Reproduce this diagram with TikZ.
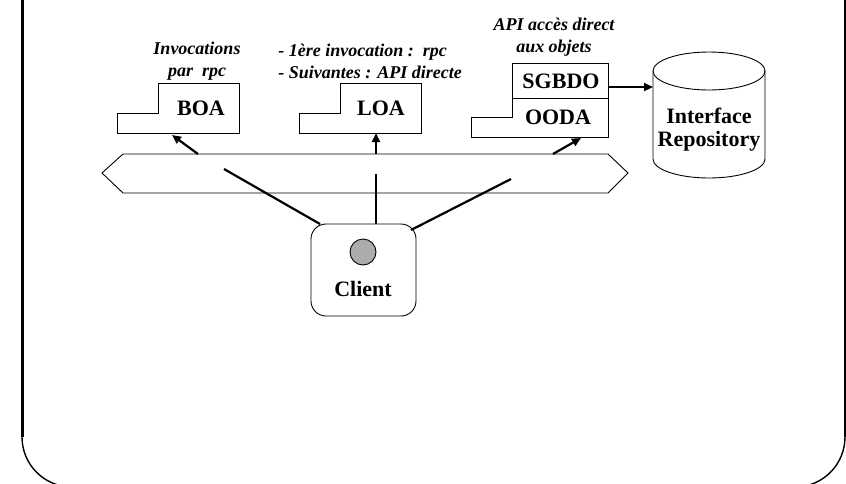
\documentclass[tikz,border=0pt]{standalone}
\usepackage{fontspec}
\setmainfont{Liberation Serif}
\usetikzlibrary{arrows.meta,positioning}

\begin{document}
\begin{tikzpicture}[x=1pt,y=-1pt,line width=0.9pt,
  lbl/.style={font=\fontsize{18}{22}\selectfont\bfseries\itshape,align=center,inner sep=0pt},
  boxname/.style={font=\fontsize{22}{23}\selectfont\bfseries,align=center,inner sep=0pt},
  link/.style={line width=2.2pt},
  arr/.style={line width=2.2pt,-{Triangle[length=9pt,width=8pt]}}]
 \useasboundingbox (0,0) rectangle (846,483);
 %FRAME
 \draw[line width=3pt] (22,0) -- (22,437);
 \draw[line width=1.4pt] (22,437) arc (180:90:50);
 \draw[line width=3pt] (845,0) -- (845,437);
 \draw[line width=1.4pt] (845,437) arc (0:90:50);
 %ADAPTERS
 \draw (117,113) -- (158,113) -- (158,83) -- (239,83) -- (239,133) -- (117,133) -- cycle;
 \draw (299,113) -- (340,113) -- (340,83) -- (421,83) -- (421,133) -- (299,133) -- cycle;
 \draw (471,117) -- (512,117) -- (512,63) -- (608,63) -- (608,137) -- (471,137) -- cycle;
 \draw (512,98) -- (608,98);
 %BUS
 \draw (102,173) -- (123,154) -- (608,154) -- (628,173) -- (608,193) -- (123,193) -- cycle;
 %REPOSITORY
 \draw[fill=white] (653,71) -- (653,159) arc (180:0:56 and 19) -- (765,71);
 \draw (709,71) ellipse (56 and 19);
 %NODES
 \node[boxname] (boa) at (201,108) {BOA};
 \node[boxname] (loa) at (381,108) {LOA};
 \node[boxname] (sgbdo) at (561,81) {SGBDO};
 \node[boxname] (ooda) at (558,117) {OODA};
 \node[boxname] (repo) at (709,130) {Interface\\Repository};
 \node[lbl] (boanote) at (197,61) {Invocations\\par~~rpc};
 \node[lbl,align=left,anchor=west] (loanote) at (278,61) {- 1ère invocation :~~rpc\\- Suivantes : API directe};
 \node[lbl] (oodanote) at (554,37) {API accès direct\\aux objets};
 \node[draw,rounded corners=15pt,minimum width=105pt,minimum height=92pt] (client) at (363.5,270) {};
 \node[circle,draw,fill=gray!65,minimum size=26pt,inner sep=0pt] (dot) at (363,252) {};
 \node[boxname] (clientname) at (363,289) {Client};
 %ENDS
 \coordinate (busl) at (224,169);
 \coordinate (busm) at (376,174);
 \coordinate (busr) at (511,179);
 \coordinate (cl) at (320,224);
 \coordinate (cm) at (376,224);
 \coordinate (cr) at (411,230);
 \coordinate (outl) at (198,154);
 \coordinate (outm) at (376,154);
 \coordinate (outr) at (553,154);
 \coordinate (inl) at (172,135);
 \coordinate (inm) at (376,133);
 \coordinate (inr) at (581,138);
 \coordinate (sgbdoe) at (608,87);
 \coordinate (repow) at (653,87);
 %EDGES
 \draw[link] (cl) -- (busl);
 \draw[link] (cm) -- (busm);
 \draw[link] (cr) -- (busr);
 \draw[arr] (outl) -- (inl);
 \draw[arr] (outm) -- (inm);
 \draw[arr] (outr) -- (inr);
 \draw[arr] (sgbdoe) -- (repow);
\end{tikzpicture}
\end{document}
